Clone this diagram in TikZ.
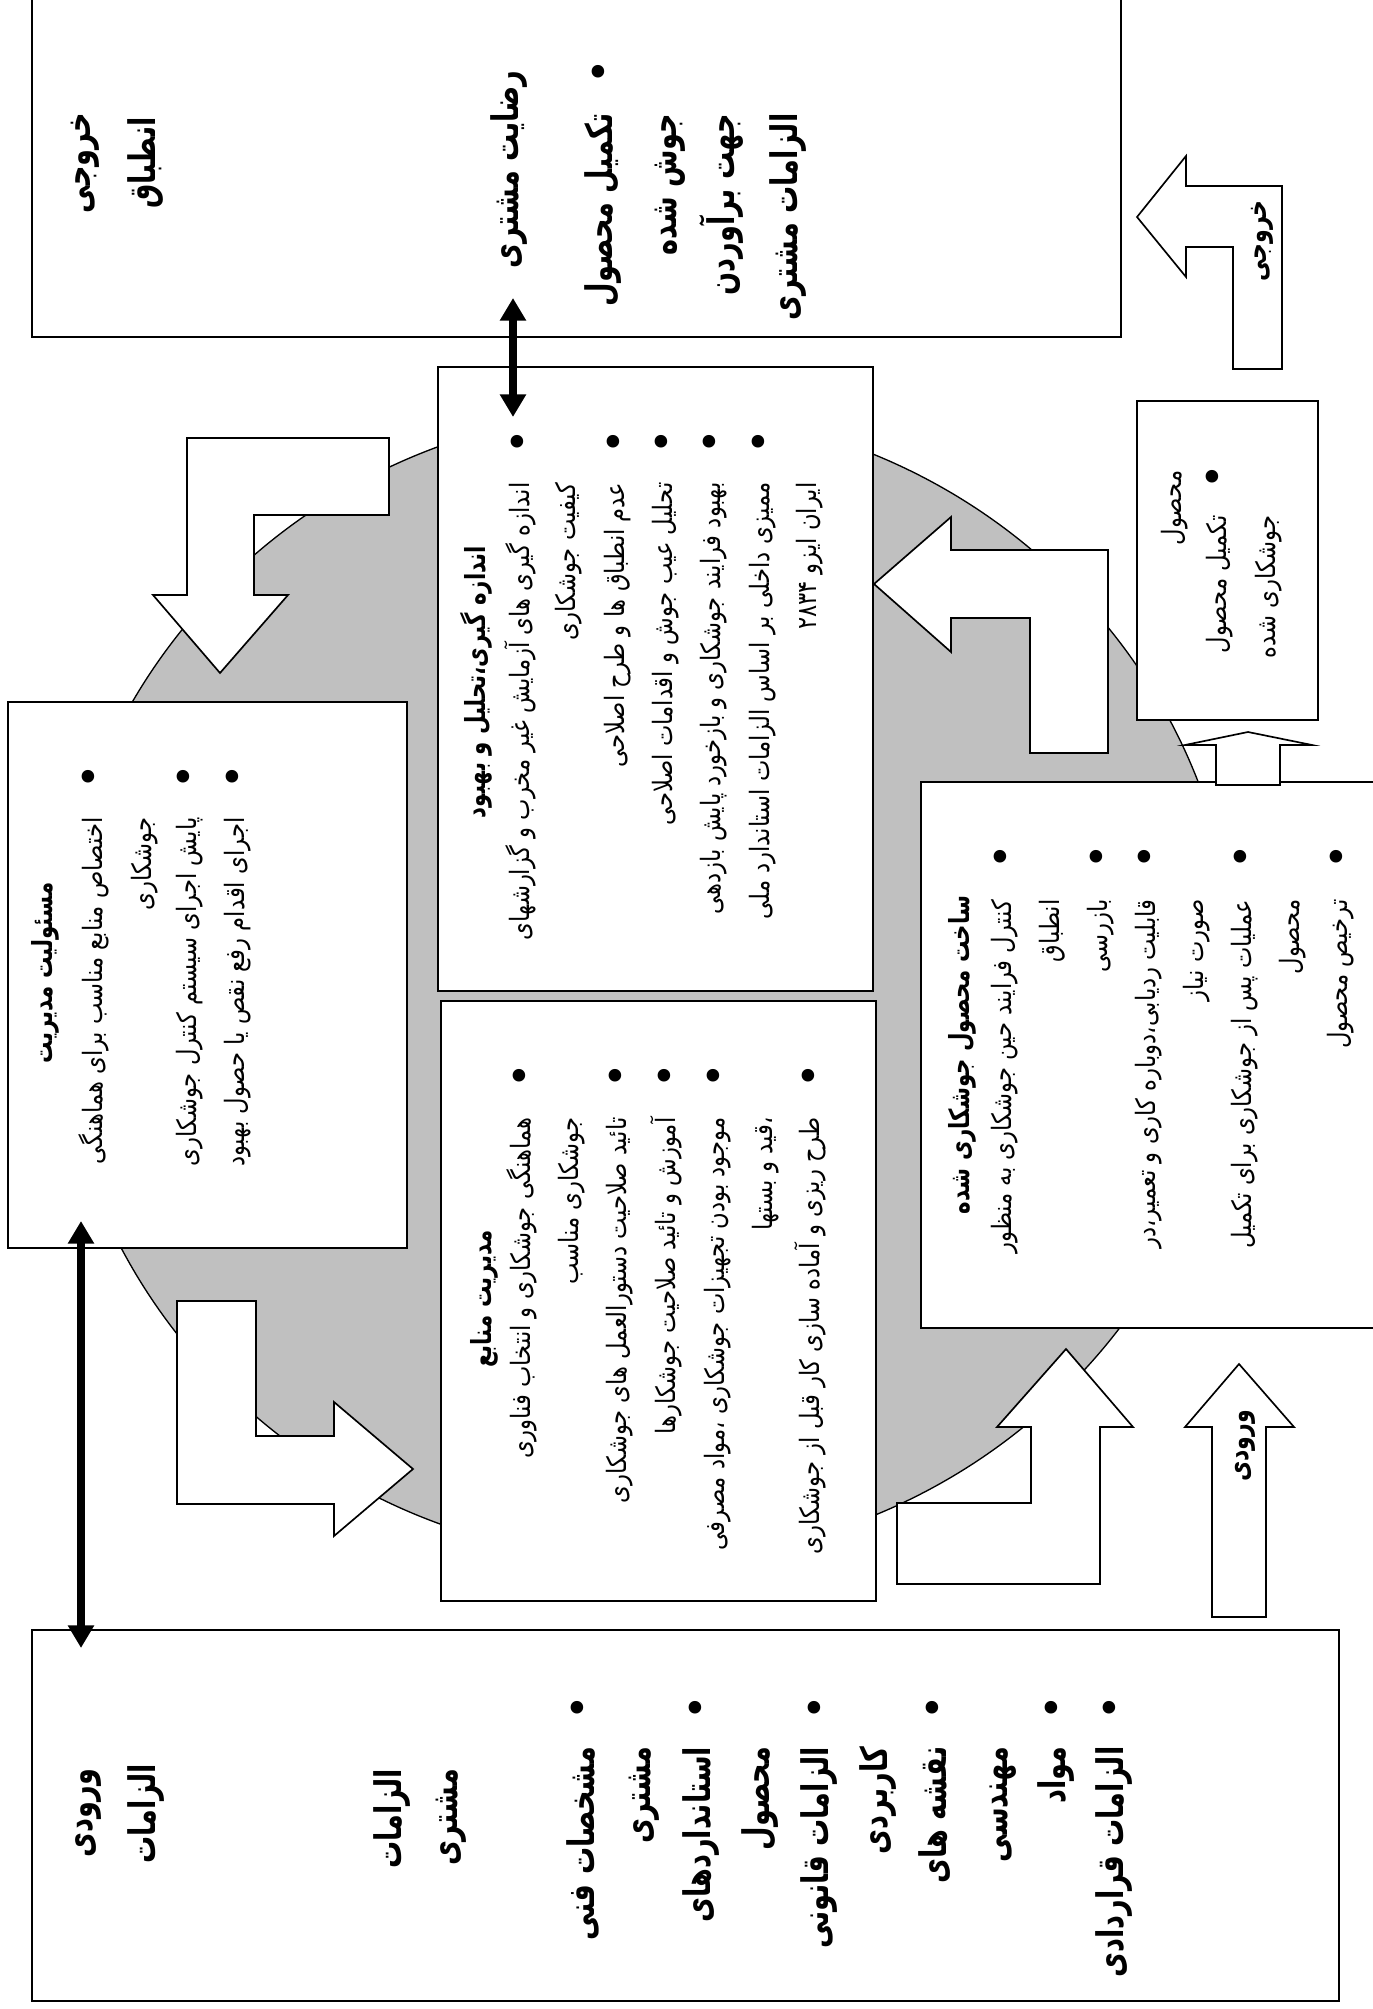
\documentclass[tikz,border=0pt]{standalone}
\usepackage{fontspec}
\TeXXeTstate=1
\newfontfamily\fa[Script=Arabic,FakeStretch=0.85]{DejaVu Sans}
\newfontfamily\fah[Script=Arabic,FakeStretch=0.77]{DejaVu Sans}
\newfontfamily\fab[Script=Arabic,FakeStretch=0.74]{DejaVu Sans}
\newfontfamily\dv{DejaVu Sans}
\usetikzlibrary{arrows.meta,fit}
\definecolor{circgray}{RGB}{192,192,192}
\begin{document}
\begin{tikzpicture}[x=0.3pt,y=-0.3pt,
  boxx/.style={draw, fill=white, line width=0.7pt, inner sep=0pt},
  barrow/.style={draw, fill=white, line width=0.5pt, line join=miter},
  dblarrow/.style={line width=2.2pt, {Triangle[width=7.5pt,length=6.8pt]}-{Triangle[width=7.5pt,length=6.8pt]}},
  rl/.style={font=\fa\fontsize{8}{10}\selectfont, rotate=90, anchor=east, inner sep=0pt, text height=6pt, text depth=2.6pt},
  hdb/.style={font=\fah\bfseries\fontsize{8.3}{10}\selectfont, rotate=90, anchor=center, inner sep=0pt},
  bbig/.style={font=\fab\bfseries\fontsize{11}{13}\selectfont, rotate=90, anchor=east, inner sep=0pt, text height=8.3pt, text depth=3.6pt},
  alab/.style={font=\fah\bfseries\fontsize{8.6}{10}\selectfont, rotate=90, anchor=center, inner sep=0pt},
  bul/.style={font=\dv\fontsize{13}{13}\selectfont, rotate=90, anchor=center, inner sep=0pt}
]
\useasboundingbox (0,0) rectangle (1372,2009);

% gray circle
\draw[fill=circgray, line width=0.4pt] (646,985) ellipse [x radius=590, y radius=575];

% boxes
\node[boxx, fit={(32,-10) (1121,337)}] (b1) {};
\node[boxx, fit={(8,702) (407,1248)}] (b2) {};
\node[boxx, fit={(438,367) (873,991)}] (b3) {};
\node[boxx, fit={(441,1001) (876,1601)}] (b4) {};
\node[boxx, fit={(921,782) (1390,1328)}] (b5) {};
\node[boxx, fit={(1137,401) (1318,720)}] (b6) {};
\node[boxx, fit={(32,1630) (1339,2001)}] (b7) {};

% block arrows
\draw[barrow] (389,438) -- (187,438) -- (187,595) -- (153,595) -- (220,673) -- (288,595) -- (254,595) -- (254,515) -- (389,515) -- cycle;
\draw[barrow] (177,1301) -- (256,1301) -- (256,1436) -- (334,1436) -- (334,1402) -- (413,1469) -- (334,1536) -- (334,1504) -- (177,1504) -- cycle;
\draw[barrow] (874,584) -- (951,517) -- (951,550) -- (1108,550) -- (1108,753) -- (1030,753) -- (1030,618) -- (951,618) -- (951,652) -- cycle;
\draw[barrow] (897,1503) -- (1031,1503) -- (1031,1427) -- (997,1427) -- (1066,1349) -- (1133,1427) -- (1100,1427) -- (1100,1584) -- (897,1584) -- cycle;
\draw[barrow] (1212,1617) -- (1212,1427) -- (1185,1427) -- (1239,1364) -- (1294,1427) -- (1266,1427) -- (1266,1617) -- cycle;
\draw[barrow] (1137,217) -- (1186,156) -- (1186,186) -- (1282,186) -- (1282,369) -- (1233,369) -- (1233,247) -- (1186,247) -- (1186,277) -- cycle;
\draw[barrow] (1216,785) -- (1216,745) -- (1185,745) -- (1248,732) -- (1312,745) -- (1280,745) -- (1280,785) -- cycle;

\node[alab] (ain) at (1245,1446) {\beginR ورودی\endR};
\node[alab] (aout) at (1262,241) {\beginR خروجی\endR};

% double arrows
\coordinate (d1a) at (513,298);
\coordinate (d1b) at (513,417);
\coordinate (d2a) at (81,1221);
\coordinate (d2b) at (81,1648);
\draw[dblarrow] (d1a) -- (d1b);
\draw[dblarrow] (d2a) -- (d2b);

% box 1 text
\node[bbig, anchor=center] (t1a) at (83,163) {\beginR خروجی\endR};
\node[bbig, anchor=center] (t1b) at (148,163) {\beginR انطباق\endR};
\node[bbig] (t1c) at (511,70) {\beginR رضایت مشتری\endR};
\node[bul] (p1a) at (603,72) {•};
\node[bbig] (t1d) at (605,113) {\beginR تکمیل محصول\endR};
\node[bbig] (t1e) at (669,113) {\beginR جوش شده\endR};
\node[bbig] (t1f) at (727,113) {\beginR جهت  برآوردن\endR};
\node[bbig] (t1g) at (790,113) {\beginR الزامات مشتری\endR};

% box 2 text
\node[hdb] (t2h) at (45,973) {\beginR مسئولیت مدیریت\endR};
\node[bul] (p2a) at (93,777) {•};
\node[bul] (p2b) at (188,777) {•};
\node[bul] (p2c) at (237,777) {•};
\node[rl] (t2a) at (97,817) {\beginR اختصاص منابع مناسب برای هماهنگی\endR};
\node[rl] (t2b) at (146,817) {\beginR جوشکاری\endR};
\node[rl] (t2c) at (191,817) {\beginR پایش اجرای سیستم کنترل جوشکاری\endR};
\node[rl] (t2d) at (239,817) {\beginR اجرای اقدام رفع نقص یا حصول بهبود\endR};

% box 3 text
\node[hdb] (t3h) at (476,682) {\beginR اندازه گیری،تحلیل و بهبود\endR};
\node[bul] (p3a) at (522,442) {•};
\node[bul] (p3b) at (618,442) {•};
\node[bul] (p3c) at (666,442) {•};
\node[bul] (p3d) at (714,442) {•};
\node[bul] (p3e) at (763,442) {•};
\node[rl] (t3a) at (524,482) {\beginR اندازه گیری های آزمایش غیر مخرب و گزارشهای\endR};
\node[rl] (t3b) at (570,482) {\beginR کیفیت جوشکاری\endR};
\node[rl] (t3c) at (619,482) {\beginR عدم انطباق ها و طرح اصلاحی\endR};
\node[rl] (t3d) at (667,482) {\beginR تحلیل عیب جوش و اقدامات اصلاحی\endR};
\node[rl] (t3e) at (715,482) {\beginR بهبود فرایند جوشکاری و بازخورد پایش بازدهی\endR};
\node[rl] (t3f) at (764,482) {\beginR ممیزی داخلی بر اساس الزامات  استاندارد ملی\endR};
\node[rl] (t3g) at (811,482) {\beginR ایران ایزو ۲۸۳۴\endR};

% box 4 text
\node[hdb] (t4h) at (484,1299) {\beginR مدیریت منابع\endR};
\node[bul] (p4a) at (524,1076) {•};
\node[bul] (p4b) at (620,1076) {•};
\node[bul] (p4c) at (669,1076) {•};
\node[bul] (p4d) at (718,1076) {•};
\node[bul] (p4e) at (813,1076) {•};
\node[rl] (t4a) at (525,1117) {\beginR هماهنگی جوشکاری  و انتخاب فناوری\endR};
\node[rl] (t4b) at (573,1117) {\beginR جوشکاری مناسب\endR};
\node[rl] (t4c) at (621,1117) {\beginR تائید صلاحیت دستورالعمل های جوشکاری\endR};
\node[rl] (t4d) at (670,1117) {\beginR آموزش و تائید صلاحیت جوشکارها\endR};
\node[rl] (t4e) at (719,1117) {\beginR موجود بودن تجهیزات جوشکاری ،مواد مصرفی\endR};
\node[rl] (t4f) at (767,1117) {\beginR ،قید و بستها\endR};
\node[rl] (t4g) at (814,1117) {\beginR طرح ریزی و آماده سازی کار قبل از جوشکاری\endR};

% box 5 text
\node[hdb] (t5h) at (962,1055) {\beginR ساخت محصول جوشکاری شده\endR};
\node[bul] (p5a) at (1005,857) {•};
\node[bul] (p5b) at (1101,857) {•};
\node[bul] (p5c) at (1149,857) {•};
\node[bul] (p5d) at (1245,857) {•};
\node[bul] (p5e) at (1341,857) {•};
\node[rl] (t5a) at (1006,899) {\beginR کنترل فرایند حین جوشکاری به منظور\endR};
\node[rl] (t5b) at (1054,899) {\beginR انطباق\endR};
\node[rl] (t5c) at (1102,899) {\beginR بازرسی\endR};
\node[rl] (t5d) at (1150,899) {\beginR قابلیت ردیابی،دوباره کاری و تعمیر،در\endR};
\node[rl] (t5e) at (1198,899) {\beginR صورت نیاز\endR};
\node[rl] (t5f) at (1246,899) {\beginR عملیات پس از جوشکاری برای تکمیل\endR};
\node[rl] (t5g) at (1294,899) {\beginR محصول\endR};
\node[rl] (t5h2) at (1342,899) {\beginR ترخیص محصول\endR};

% box 6 text
\node[rl] (t6a) at (1176,470) {\beginR محصول\endR};
\node[bul] (p6a) at (1217,477) {•};
\node[rl] (t6b) at (1221,515) {\beginR تکمیل محصول\endR};
\node[rl] (t6c) at (1270,515) {\beginR جوشکاری شده\endR};

% box 7 text
\node[bbig, anchor=center] (t7a) at (85,1813) {\beginR ورودی\endR};
\node[bbig, anchor=center] (t7b) at (148,1814) {\beginR الزامات\endR};
\node[bbig] (t7c) at (394,1768) {\beginR الزامات\endR};
\node[bbig] (t7d) at (450,1768) {\beginR مشتری\endR};
\node[bul] (p7a) at (582,1708) {•};
\node[bul] (p7b) at (700,1708) {•};
\node[bul] (p7c) at (819,1708) {•};
\node[bul] (p7d) at (937,1708) {•};
\node[bul] (p7e) at (1056,1708) {•};
\node[bul] (p7f) at (1114,1708) {•};
\node[bbig] (t7e) at (587,1746) {\beginR مشخصات فنی\endR};
\node[bbig] (t7f) at (643,1746) {\beginR مشتری\endR};
\node[bbig] (t7g) at (703,1746) {\beginR استانداردهای\endR};
\node[bbig] (t7h) at (762,1746) {\beginR محصول\endR};
\node[bbig] (t7i) at (821,1746) {\beginR الزامات قانونی\endR};
\node[bbig] (t7j) at (880,1746) {\beginR کاربردی\endR};
\node[bbig] (t7k) at (939,1746) {\beginR نقشه های\endR};
\node[bbig] (t7l) at (1000,1746) {\beginR مهندسی\endR};
\node[bbig] (t7m) at (1058,1746) {\beginR مواد\endR};
\node[bbig] (t7n) at (1116,1746) {\beginR الزامات قراردادی\endR};
\end{tikzpicture}
\end{document}
